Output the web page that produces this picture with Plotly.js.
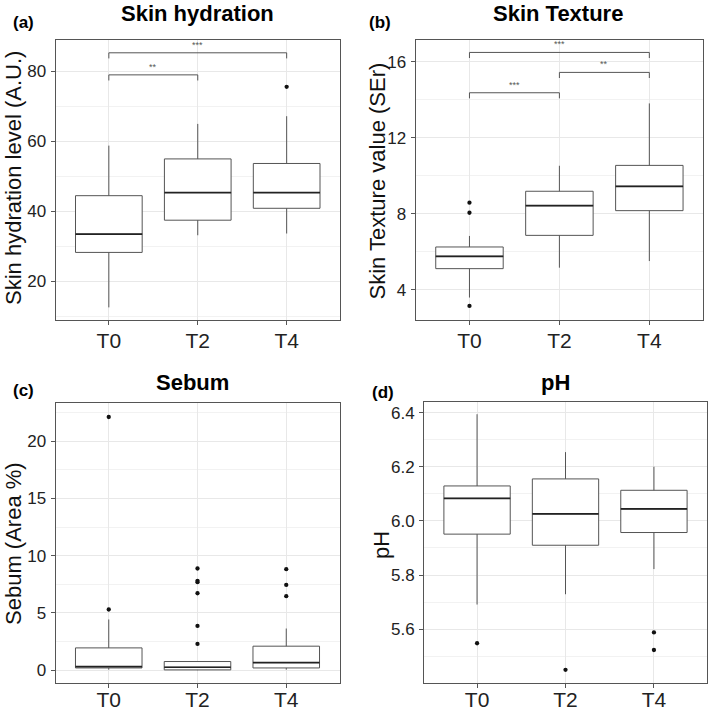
<!DOCTYPE html>
<html>
<head>
<meta charset="utf-8">
<script src="https://cdn.plot.ly/plotly-3.0.1.min.js"></script>
<style>html,body{margin:0;padding:0;background:#fff;}#chart{width:709px;height:713px;}</style>
</head>
<body>
<div id="chart"></div>
<script>
// ---------- data ----------
const categories = ['T0', 'T2', 'T4'];

// (a) Skin hydration
const hydQ1 = [28.2, 37.4, 40.8];
const hydMedian = [33.4, 45.3, 45.3];
const hydQ3 = [44.4, 54.9, 53.6];
const hydLower = [12.5, 33.1, 33.6];
const hydUpper = [58.7, 64.9, 67.1];
const hydOutCat = ['T4'];
const hydOutVal = [75.5];
const hydSigFrom = ['T0', 'T0'];
const hydSigTo = ['T2', 'T4'];
const hydSigY = [78.9, 85.2];
const hydSigLabel = ['**', '***'];

// (b) Skin texture
const texQ1 = [5.12, 6.87, 8.17];
const texMedian = [5.77, 8.43, 9.45];
const texQ3 = [6.26, 9.19, 10.55];
const texLower = [3.6, 5.17, 5.52];
const texUpper = [6.84, 10.53, 13.81];
const texOutCat = ['T0', 'T0', 'T0'];
const texOutVal = [8.59, 8.06, 3.16];
const texSigFrom = ['T0', 'T2', 'T0'];
const texSigTo = ['T2', 'T4', 'T4'];
const texSigY = [14.37, 15.44, 16.49];
const texSigLabel = ['***', '**', '***'];

// (c) Sebum
const sebQ1 = [0.2, 0.03, 0.2];
const sebMedian = [0.32, 0.26, 0.67];
const sebQ3 = [1.95, 0.76, 2.1];
const sebLower = [0.05, 0.0, 0.05];
const sebUpper = [4.43, 0.76, 3.64];
const sebOutCat = ['T0', 'T0', 'T2', 'T2', 'T2', 'T2', 'T2', 'T2', 'T4', 'T4', 'T4'];
const sebOutVal = [5.3, 22.1, 8.88, 7.8, 7.69, 6.72, 3.87, 2.3, 8.82, 7.45, 6.46];

// (d) pH
const phQ1 = [5.951, 5.910, 5.957];
const phMedian = [6.083, 6.026, 6.044];
const phQ3 = [6.129, 6.155, 6.113];
const phLower = [5.691, 5.729, 5.822];
const phUpper = [6.394, 6.254, 6.200];
const phOutCat = ['T0', 'T2', 'T4', 'T4'];
const phOutVal = [5.548, 5.45, 5.588, 5.523];

// ---------- styling / layout ----------
const W = 709, H = 713;
const FONT = 'Liberation Sans, Arial, sans-serif';
const BOX_W = 0.75;
const idx = c => categories.indexOf(c);
const catIdx = categories.map((c, i) => i);

const panels = [
  {ax: '', title: 'Skin hydration', tag: '(a)', ytitle: 'Skin hydration level (A.U.)',
   q1: hydQ1, med: hydMedian, q3: hydQ3, lo: hydLower, hi: hydUpper,
   outCat: hydOutCat, outVal: hydOutVal,
   sigFrom: hydSigFrom, sigTo: hydSigTo, sigY: hydSigY, sigLabel: hydSigLabel,
   px: [55.5, 340], py: [39.5, 320], range: [8.9, 89], dtick: 20, minor: 10, fmt: '', xstand: -2,
   titleXY: [197.5, 13.5], tagXY: [23, 23], ytXY: [13, 178]},
  {ax: '2', title: 'Skin Texture', tag: '(b)', ytitle: 'Skin Texture value (SEr)',
   q1: texQ1, med: texMedian, q3: texQ3, lo: texLower, hi: texUpper,
   outCat: texOutCat, outVal: texOutVal,
   sigFrom: texSigFrom, sigTo: texSigTo, sigY: texSigY, sigLabel: texSigLabel,
   px: [415.5, 703.3], py: [39.5, 320], range: [2.42, 17.17], dtick: 4, minor: 2, fmt: '', xstand: -2,
   titleXY: [558, 13.5], tagXY: [380, 23], ytXY: [376.5, 181]},
  {ax: '3', title: 'Sebum', tag: '(c)', ytitle: 'Sebum (Area %)',
   q1: sebQ1, med: sebMedian, q3: sebQ3, lo: sebLower, hi: sebUpper,
   outCat: sebOutCat, outVal: sebOutVal,
   sigFrom: [], sigTo: [], sigY: [], sigLabel: [],
   px: [55.5, 339.5], py: [402.7, 682.5], range: [-1.07, 23.35], dtick: 5, minor: 2.5, fmt: '', xstand: -6,
   titleXY: [192, 383], tagXY: [23, 391], ytXY: [13, 544]},
  {ax: '4', title: 'pH', tag: '(d)', ytitle: 'pH',
   q1: phQ1, med: phMedian, q3: phQ3, lo: phLower, hi: phUpper,
   outCat: phOutCat, outVal: phOutVal,
   sigFrom: [], sigTo: [], sigY: [], sigLabel: [],
   px: [424, 707], py: [402.3, 682.5], range: [5.403, 6.438], dtick: 0.2, minor: 0.1, fmt: '.1f', xstand: -6,
   titleXY: [555, 383], tagXY: [383, 392], ytXY: [381, 545]}
];

const traces = [];
const layout = {
  width: W, height: H,
  margin: {l: 0, r: 0, t: 0, b: 0},
  paper_bgcolor: '#ffffff', plot_bgcolor: '#ffffff',
  showlegend: false,
  font: {family: FONT, color: '#222'},
  annotations: []
};

panels.forEach(p => {
  const xa = 'x' + p.ax, ya = 'y' + p.ax;
  const xk = 'xaxis' + p.ax, yk = 'yaxis' + p.ax;
  const yRangeSpan = p.range[1] - p.range[0];
  const tip = 0.02 * yRangeSpan;

  // box plot (precomputed stats)
  traces.push({
    type: 'box', xaxis: xa, yaxis: ya,
    x: catIdx, q1: p.q1, median: p.med, q3: p.q3,
    lowerfence: p.lo, upperfence: p.hi,
    width: BOX_W, whiskerwidth: 0,
    boxpoints: false,
    fillcolor: '#ffffff',
    line: {color: '#555555', width: 1},
    hoverinfo: 'skip'
  });
  // darker median overlay
  const mx = [], my = [];
  catIdx.forEach((i, k) => {
    mx.push(i - BOX_W / 2, i + BOX_W / 2, null);
    my.push(p.med[k], p.med[k], null);
  });
  traces.push({type: 'scatter', mode: 'lines', xaxis: xa, yaxis: ya,
    x: mx, y: my, line: {color: '#222222', width: 1.7}, hoverinfo: 'skip'});
  // outliers
  traces.push({type: 'scatter', mode: 'markers', xaxis: xa, yaxis: ya,
    x: p.outCat.map(idx), y: p.outVal,
    marker: {color: '#111111', size: 4.3}, hoverinfo: 'skip'});
  // significance brackets
  p.sigY.forEach((yv, k) => {
    const a = idx(p.sigFrom[k]), b = idx(p.sigTo[k]);
    traces.push({type: 'scatter', mode: 'lines', xaxis: xa, yaxis: ya,
      x: [a, a, b, b], y: [yv - tip, yv, yv, yv - tip],
      line: {color: '#555555', width: 1}, hoverinfo: 'skip'});
    layout.annotations.push({xref: xa, yref: ya, x: (a + b) / 2, y: yv,
      text: p.sigLabel[k], showarrow: false, yanchor: 'bottom', yshift: 1,
      font: {family: FONT, size: 9, color: '#555555'}});
  });

  layout[xk] = {
    domain: [p.px[0] / W, p.px[1] / W],
    anchor: ya, type: 'linear', range: [-0.6, 2.6],
    tickmode: 'array', tickvals: catIdx, ticktext: categories,
    showgrid: true, gridcolor: '#e8e8e8', gridwidth: 1,
    zeroline: false, showline: true, mirror: true, linecolor: '#555555', linewidth: 1,
    ticks: 'outside', ticklen: 4, tickcolor: '#555555', tickwidth: 1,
    ticklabelstandoff: p.xstand,
    tickfont: {family: FONT, size: 21, color: '#222222'},
    fixedrange: true
  };
  layout[yk] = {
    domain: [1 - p.py[1] / H, 1 - p.py[0] / H],
    anchor: xa, range: p.range,
    tickmode: 'linear', tick0: 0, dtick: p.dtick, tickformat: p.fmt,
    showgrid: true, gridcolor: '#e8e8e8', gridwidth: 1,
    minor: {tickmode: 'linear', tick0: 0, dtick: p.minor, showgrid: true, gridcolor: '#f2f2f2', gridwidth: 1, ticks: ''},
    zeroline: false, showline: true, mirror: true, linecolor: '#555555', linewidth: 1,
    ticks: 'outside', ticklen: 4, tickcolor: '#555555', tickwidth: 1,
    ticklabelstandoff: 1,
    tickfont: {family: FONT, size: 17, color: '#222222'},
    fixedrange: true
  };

  // panel title
  layout.annotations.push({xref: 'paper', yref: 'paper',
    x: p.titleXY[0] / W, y: 1 - p.titleXY[1] / H, xanchor: 'center', yanchor: 'middle',
    text: p.title, showarrow: false,
    font: {family: FONT, size: 22, color: '#000000', weight: 'bold'}});
  // panel tag
  layout.annotations.push({xref: 'paper', yref: 'paper',
    x: p.tagXY[0] / W, y: 1 - p.tagXY[1] / H, xanchor: 'center', yanchor: 'middle',
    text: p.tag, showarrow: false,
    font: {family: FONT, size: 17, color: '#000000', weight: 'bold'}});
  // y-axis title
  layout.annotations.push({xref: 'paper', yref: 'paper',
    x: p.ytXY[0] / W, y: 1 - p.ytXY[1] / H, xanchor: 'center', yanchor: 'middle',
    text: p.ytitle, textangle: -90, showarrow: false,
    font: {family: FONT, size: 22, color: '#111111'}});
});

Plotly.newPlot('chart', traces, layout, {displayModeBar: false, staticPlot: true});
</script>
</body>
</html>
